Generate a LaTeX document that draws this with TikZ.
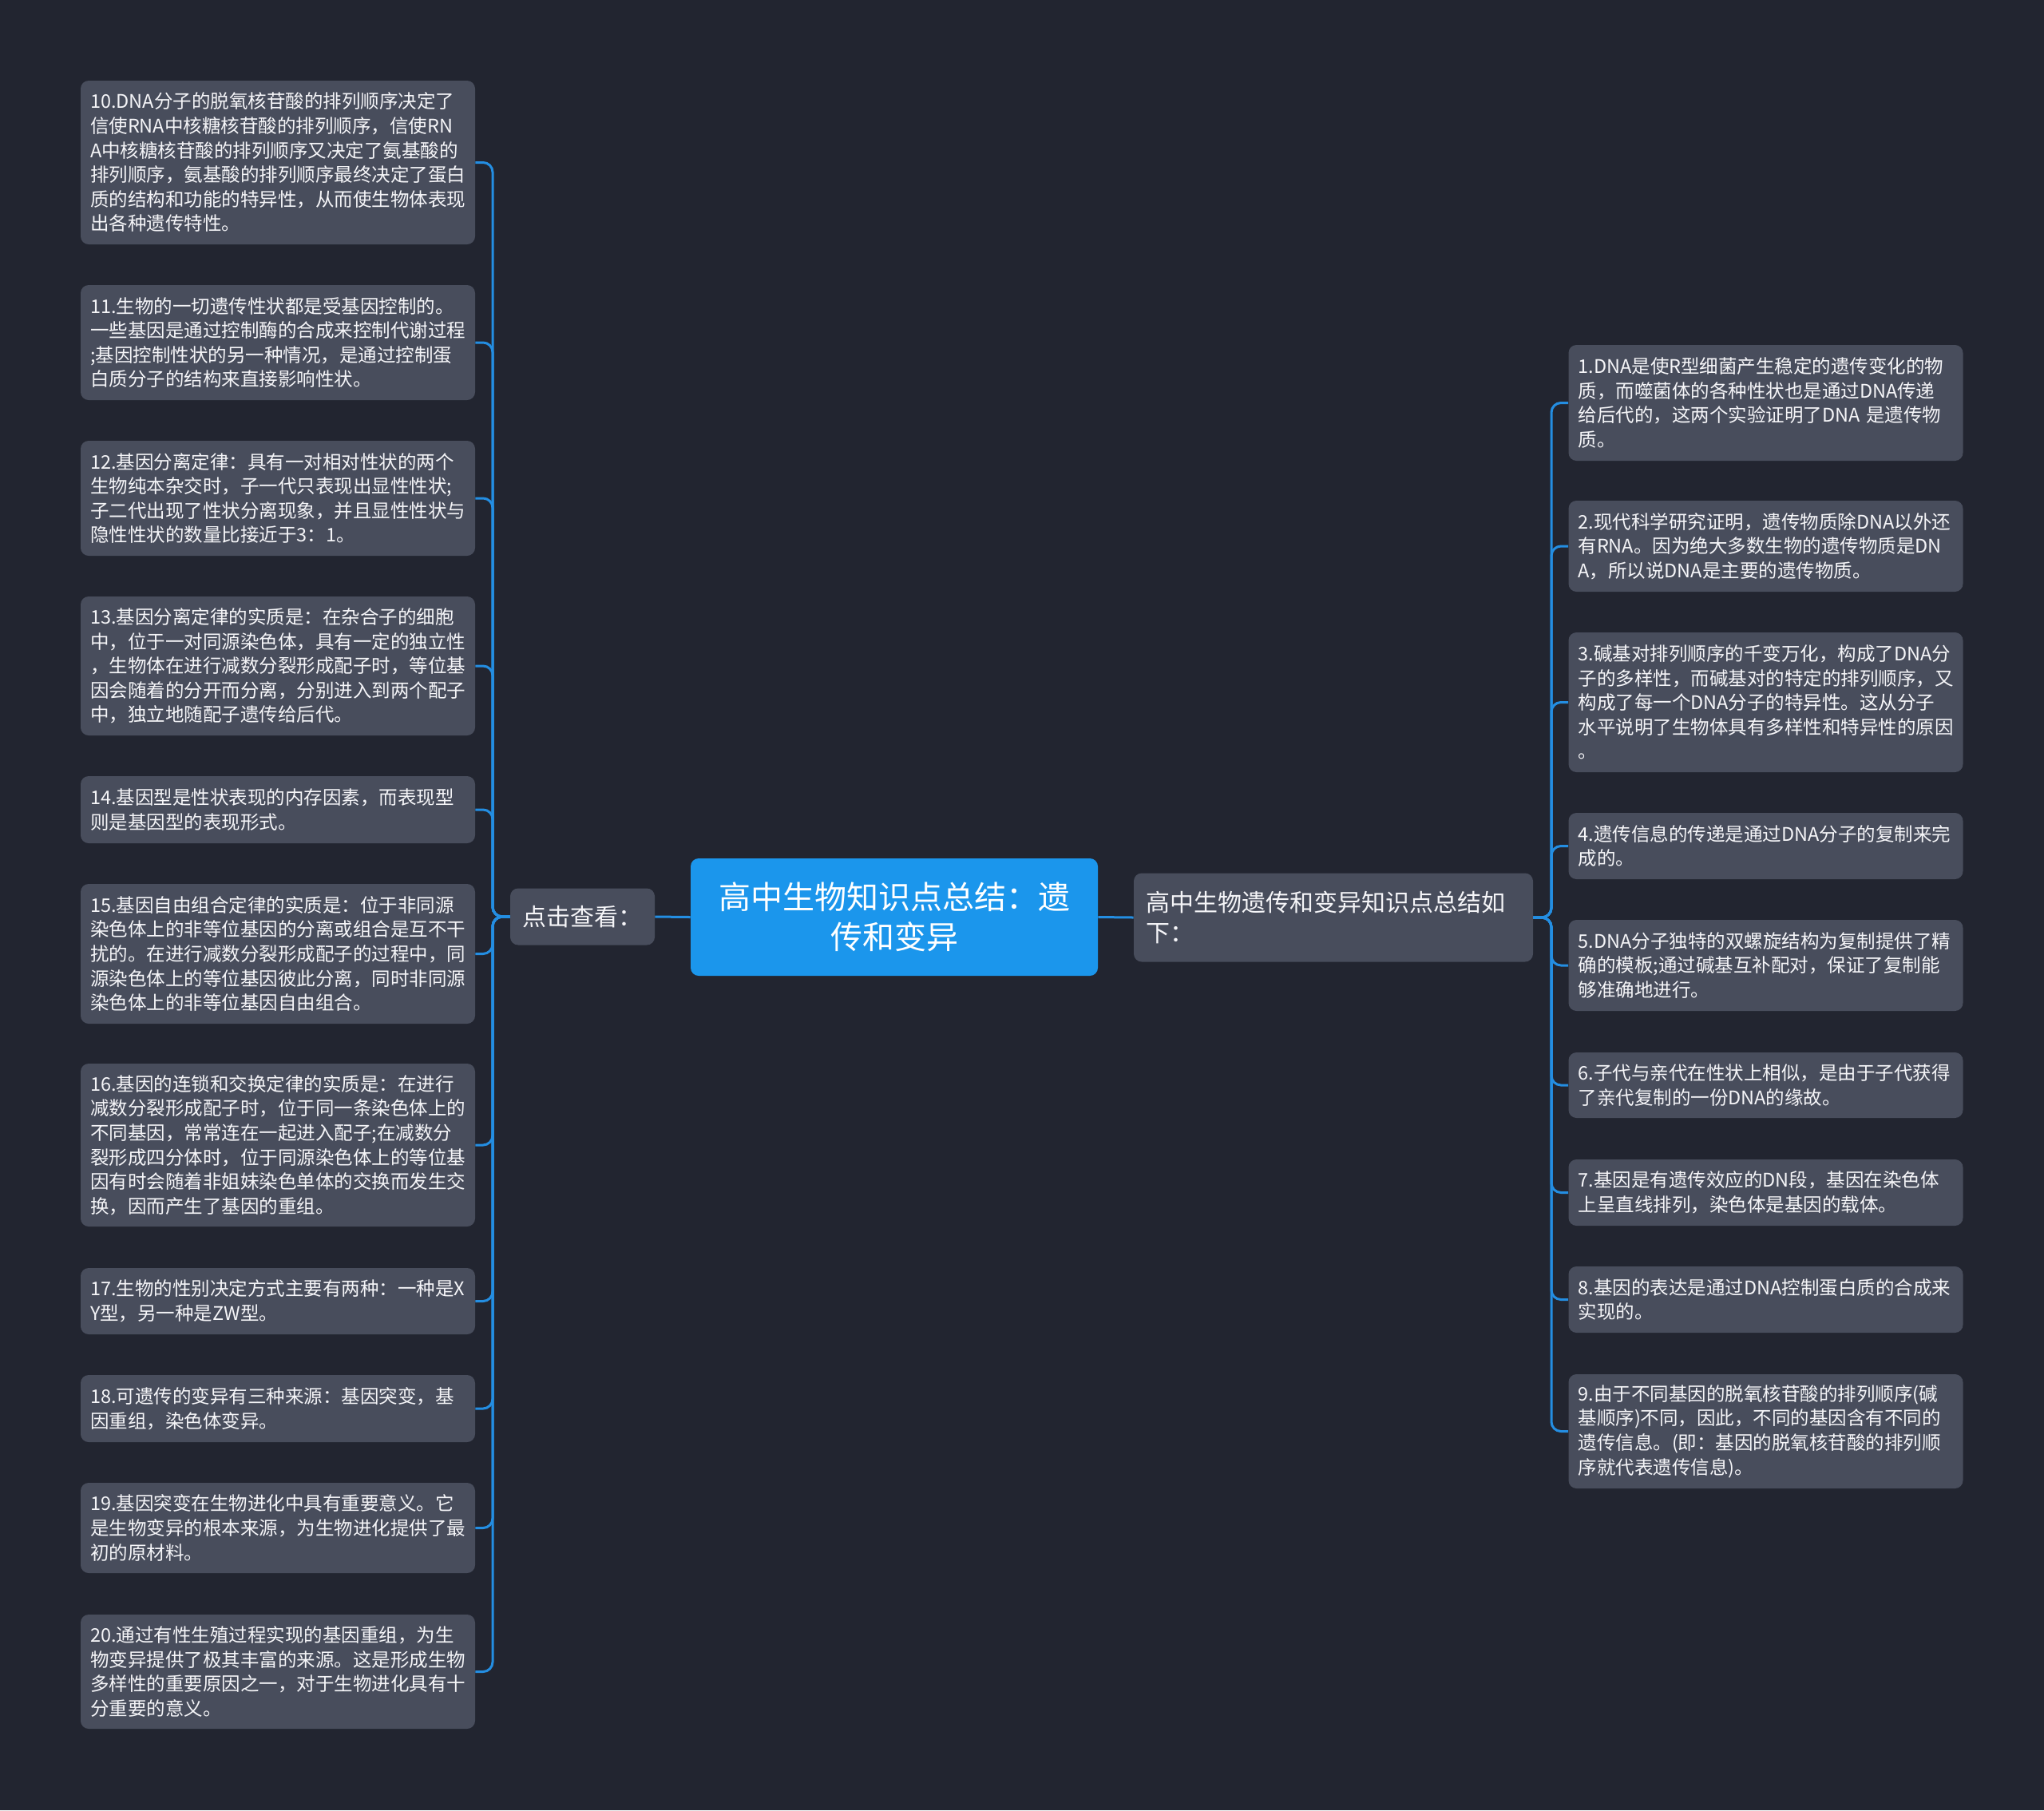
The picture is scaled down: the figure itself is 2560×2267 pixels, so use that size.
\documentclass[tikz,border=0pt]{standalone}
\usepackage{fontspec}
\setmainfont{Noto Sans CJK SC}
\definecolor{bgc}{RGB}{34,37,48}
\definecolor{leaffill}{RGB}{72,77,92}
\definecolor{mainblue}{RGB}{27,150,236}
\definecolor{connc}{RGB}{36,142,226}
\definecolor{txtc}{RGB}{245,245,248}
\tikzset{
  leaf/.style={fill=leaffill, rounded corners=5pt, text=txtc, text width=235pt, inner xsep=6pt, inner ysep=0pt,
    align=left, anchor=center, font=\fontsize{11.75pt}{15.3pt}\selectfont},
  midbox/.style={fill=leaffill, rounded corners=5pt, text=txtc, inner sep=0pt, font=\fontsize{15pt}{19pt}\selectfont},
  rootbox/.style={fill=mainblue, rounded corners=5pt, text=white, inner sep=0pt, align=center,
    minimum width=255pt, minimum height=73.5pt, font=\fontsize{20pt}{25pt}\selectfont},
  conn/.style={draw=connc, line width=1.5pt, rounded corners=6pt}
}
\begin{document}
\begin{tikzpicture}[x=0.5pt,y=-0.5pt]
\fill[bgc] (0,0) rectangle (2560,2267);
\useasboundingbox (0,0) rectangle (2560,2267);

% central nodes
\node[rootbox] (root) at (1120,1148.5) {高中生物知识点总结：遗\\传和变异};
\node[midbox, minimum width=90.5pt, minimum height=35.5pt] (dj) at (729.5,1148) {点击查看：};
\node[midbox, text width=235pt, inner xsep=7.5pt, align=left, minimum height=55.5pt] (rm) at (1670,1149) {高中生物遗传和变异知识点总结如\\下：};

% left leaves
\node[leaf, minimum height=102.5pt] (n10) at (348,203.5) {10.DNA分子的脱氧核苷酸的排列顺序决定了\\信使RNA中核糖核苷酸的排列顺序，信使RN\\A中核糖核苷酸的排列顺序又决定了氨基酸的\\排列顺序，氨基酸的排列顺序最终决定了蛋白\\质的结构和功能的特异性，从而使生物体表现\\出各种遗传特性。};
\node[leaf, minimum height=72pt] (n11) at (348,429) {11.生物的一切遗传性状都是受基因控制的。\\一些基因是通过控制酶的合成来控制代谢过程\\;基因控制性状的另一种情况，是通过控制蛋\\白质分子的结构来直接影响性状。};
\node[leaf, minimum height=72pt] (n12) at (348,624) {12.基因分离定律：具有一对相对性状的两个\\生物纯本杂交时，子一代只表现出显性性状;\\子二代出现了性状分离现象，并且显性性状与\\隐性性状的数量比接近于3：1。};
\node[leaf, minimum height=87pt] (n13) at (348,834) {13.基因分离定律的实质是：在杂合子的细胞\\中，位于一对同源染色体，具有一定的独立性\\，生物体在进行减数分裂形成配子时，等位基\\因会随着的分开而分离，分别进入到两个配子\\中，独立地随配子遗传给后代。};
\node[leaf, minimum height=42pt] (n14) at (348,1014) {14.基因型是性状表现的内存因素，而表现型\\则是基因型的表现形式。};
\node[leaf, minimum height=87.5pt] (n15) at (348,1194.5) {15.基因自由组合定律的实质是：位于非同源\\染色体上的非等位基因的分离或组合是互不干\\扰的。在进行减数分裂形成配子的过程中，同\\源染色体上的等位基因彼此分离，同时非同源\\染色体上的非等位基因自由组合。};
\node[leaf, minimum height=102pt] (n16) at (348,1434) {16.基因的连锁和交换定律的实质是：在进行\\减数分裂形成配子时，位于同一条染色体上的\\不同基因，常常连在一起进入配子;在减数分\\裂形成四分体时，位于同源染色体上的等位基\\因有时会随着非姐妹染色单体的交换而发生交\\换，因而产生了基因的重组。};
\node[leaf, minimum height=41.5pt] (n17) at (348,1629.5) {17.生物的性别决定方式主要有两种：一种是X\\Y型，另一种是ZW型。};
\node[leaf, minimum height=42pt] (n18) at (348,1764) {18.可遗传的变异有三种来源：基因突变，基\\因重组，染色体变异。};
\node[leaf, minimum height=56.5pt] (n19) at (348,1913.5) {19.基因突变在生物进化中具有重要意义。它\\是生物变异的根本来源，为生物进化提供了最\\初的原材料。};
\node[leaf, minimum height=71.5pt] (n20) at (348,2093.5) {20.通过有性生殖过程实现的基因重组，为生\\物变异提供了极其丰富的来源。这是形成生物\\多样性的重要原因之一，对于生物进化具有十\\分重要的意义。};

% right leaves
\node[leaf, minimum height=72.5pt] (r1) at (2211.5,504.5) {1.DNA是使R型细菌产生稳定的遗传变化的物\\质，而噬菌体的各种性状也是通过DNA传递\\给后代的，这两个实验证明了DNA 是遗传物\\质。};
\node[leaf, minimum height=57pt] (r2) at (2211.5,684) {2.现代科学研究证明，遗传物质除DNA以外还\\有RNA。因为绝大多数生物的遗传物质是DN\\A，所以说DNA是主要的遗传物质。};
\node[leaf, minimum height=87.5pt] (r3) at (2211.5,879.5) {3.碱基对排列顺序的千变万化，构成了DNA分\\子的多样性，而碱基对的特定的排列顺序，又\\构成了每一个DNA分子的特异性。这从分子\\水平说明了生物体具有多样性和特异性的原因\\。};
\node[leaf, minimum height=41.5pt] (r4) at (2211.5,1059.5) {4.遗传信息的传递是通过DNA分子的复制来完\\成的。};
\node[leaf, minimum height=57pt] (r5) at (2211.5,1209) {5.DNA分子独特的双螺旋结构为复制提供了精\\确的模板;通过碱基互补配对，保证了复制能\\够准确地进行。};
\node[leaf, minimum height=41pt] (r6) at (2211.5,1359) {6.子代与亲代在性状上相似，是由于子代获得\\了亲代复制的一份DNA的缘故。};
\node[leaf, minimum height=41.5pt] (r7) at (2211.5,1493.5) {7.基因是有遗传效应的DN段，基因在染色体\\上呈直线排列，染色体是基因的载体。};
\node[leaf, minimum height=41.5pt] (r8) at (2211.5,1627.5) {8.基因的表达是通过DNA控制蛋白质的合成来\\实现的。};
\node[leaf, minimum height=71.5pt] (r9) at (2211.5,1792.5) {9.由于不同基因的脱氧核苷酸的排列顺序(碱\\基顺序)不同，因此，不同的基因含有不同的\\遗传信息。(即：基因的脱氧核苷酸的排列顺\\序就代表遗传信息)。};

% connectors
\coordinate (LS) at (617,1148);
\coordinate (RS) at (1943,1149);
\draw[conn] (root.west) -- (dj.east);
\draw[conn] (root.east) -- (rm.west);
\foreach \n in {n10,n11,n12,n13,n14,n15,n16,n17,n18,n19,n20}
  \draw[conn] (dj.west) -- (LS) |- (\n.east);
\foreach \n in {r1,r2,r3,r4,r5,r6,r7,r8,r9}
  \draw[conn] (rm.east) -- (RS) |- (\n.west);
\end{tikzpicture}
\end{document}
